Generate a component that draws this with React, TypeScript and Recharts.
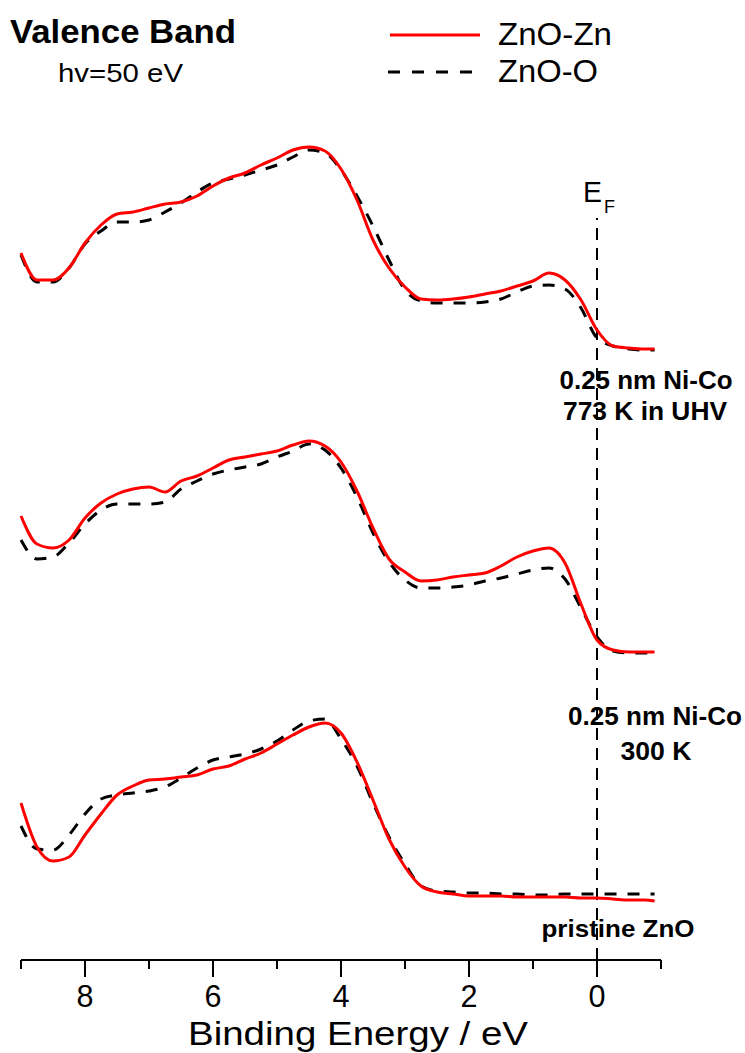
import React from 'react';
import { LineChart, Line, XAxis, YAxis, ReferenceLine } from 'recharts';

// Valence band spectra (hv = 50 eV), three stacked sample states.
// Intensities are in arbitrary plot units (offsets already included).
const ENERGY = [
  9, 8.75, 8.5, 8.25, 8, 7.75, 7.5, 7.25, 7, 6.75, 6.5, 6.25, 6, 5.75, 5.5,
  5.25, 5, 4.75, 4.5, 4.25, 4, 3.75, 3.5, 3.25, 3, 2.75, 2.5, 2.25, 2, 1.75,
  1.5, 1.25, 1, 0.75, 0.5, 0.25, 0, -0.25, -0.5, -0.75, -0.9,
];

// 0.25 nm Ni-Co, 773 K in UHV
const UHV_ZN = [
  707, 680, 680, 692, 717, 735, 746, 748, 752, 756, 758, 764, 774, 782, 787,
  795, 802, 810, 813, 809, 791, 760, 720, 692, 673, 661, 660, 661, 663, 666,
  669, 674, 679, 687, 680, 660, 630, 614, 612, 611, 611,
];
const UHV_O = [
  705, 678, 678, 692, 716, 729, 738, 738, 740, 748, 757, 768, 777, 781, 785,
  790, 795, 803, 810, 807, 790, 764, 734, 700, 670, 659, 657, 657, 657, 658,
  661, 668, 674, 675, 671, 652, 622, 614, 611, 610, 610,
];

// 0.25 nm Ni-Co, 300 K
const RT_ZN = [
  444, 416, 412, 420, 442, 457, 466, 471, 473, 468, 479, 484, 492, 500, 503,
  506, 509, 515, 519, 514, 498, 469, 432, 401, 388, 379, 380, 383, 385, 387,
  394, 403, 409, 412, 397, 356, 320, 310, 308, 308, 308,
];
const RT_O = [
  420, 401, 403, 417, 436, 450, 456, 456, 456, 458, 471, 479, 486, 490, 493,
  496, 503, 509, 516, 510, 492, 463, 427, 398, 380, 372, 372, 373, 375, 379,
  382, 386, 390, 392, 381, 352, 323, 309, 307, 307, 307,
];

// pristine ZnO
const PRISTINE_ZN = [
  157, 113, 99, 103, 125, 146, 165, 174, 180, 181, 183, 185, 191, 194, 201,
  207, 216, 225, 233, 237, 227, 198, 160, 121, 93, 74, 68, 66, 64, 64,
  64, 63, 63, 63, 63, 62, 62, 61, 60, 60, 59,
];
const PRISTINE_O = [
  134, 111, 110, 125, 146, 161, 165, 167, 169, 173, 182, 192, 200, 203, 206,
  211, 219, 230, 239, 241, 221, 194, 157, 123, 96, 74, 69, 68, 67, 67,
  66, 66, 65, 65, 66, 66, 66, 66, 66, 66, 66,
];

const X_TICKS = [9, 8, 7, 6, 5, 4, 3, 2, 1, 0, -1];

const FONT = '"Liberation Sans", Arial, sans-serif';
const AXIS_Y = 960;

const rows = ENERGY.map((e, i) => ({
  energy: e,
  uhvZn: UHV_ZN[i],
  uhvO: UHV_O[i],
  rtZn: RT_ZN[i],
  rtO: RT_O[i],
  priZn: PRISTINE_ZN[i],
  priO: PRISTINE_O[i],
}));

const ZN_SERIES = ['uhvZn', 'rtZn', 'priZn'];
const O_SERIES = ['uhvO', 'rtO', 'priO'];

/**
 * Bottom axis tick: long tick + label on even energies, short tick on odd ones
 */
function EnergyTick({ x, payload }: any): React.ReactElement {
  const v = payload.value;
  const major = v % 2 === 0;
  return (
    <g>
      <line
        x1={x}
        x2={x}
        y1={AXIS_Y}
        y2={AXIS_Y + (major ? 17 : 9)}
        stroke="#000"
        strokeWidth={2}
      />
      {major && (
        <text
          x={x}
          y={1007}
          textAnchor="middle"
          fontFamily={FONT}
          fontSize={31}
          textLength={17}
          lengthAdjust="spacingAndGlyphs"
          fill="#000"
        >
          {v}
        </text>
      )}
    </g>
  );
}

function Txt({ x, y, w, size, bold, anchor = 'start', children }: any) {
  return (
    <text
      x={x}
      y={y}
      fontFamily={FONT}
      fontSize={size}
      fontWeight={bold ? 'bold' : 'normal'}
      textAnchor={anchor}
      textLength={w}
      lengthAdjust="spacingAndGlyphs"
      fill="#000"
    >
      {children}
    </text>
  );
}

export default function App(): React.ReactElement {
  return (
    <div
      style={{
        position: 'absolute',
        left: 0,
        top: 0,
        width: 745,
        height: 1053,
        background: '#fff',
        overflow: 'hidden',
      }}
    >
      <LineChart
        width={745}
        height={1053}
        data={rows}
        margin={{ top: 100, right: 84, bottom: 0, left: 21 }}
      >
        <XAxis
          type="number"
          dataKey="energy"
          domain={[-1, 9]}
          reversed
          ticks={X_TICKS}
          interval={0}
          tick={<EnergyTick />}
          tickLine={false}
          tickSize={0}
          tickMargin={0}
          axisLine={{ stroke: '#000', strokeWidth: 2 }}
          height={93}
        />
        <YAxis type="number" domain={[0, 860]} hide />
        <ReferenceLine
          segment={[
            { x: 0, y: 0 },
            { x: 0, y: 742 },
          ]}
          stroke="#000"
          strokeWidth={2}
          strokeDasharray="12 8"
        />
        {O_SERIES.map((k) => (
          <Line
            key={k}
            type="monotone"
            dataKey={k}
            stroke="#000"
            strokeWidth={3}
            strokeDasharray="12 11"
            dot={false}
            isAnimationActive={false}
          />
        ))}
        {ZN_SERIES.map((k) => (
          <Line
            key={k}
            type="monotone"
            dataKey={k}
            stroke="#ff0000"
            strokeWidth={3}
            dot={false}
            isAnimationActive={false}
          />
        ))}
      </LineChart>

      <svg
        width={745}
        height={1053}
        style={{ position: 'absolute', left: 0, top: 0, pointerEvents: 'none' }}
      >
        <Txt x={10} y={43} w={226} size={33} bold>
          Valence Band
        </Txt>
        <Txt x={58} y={82} w={125} size={26}>
          hv=50 eV
        </Txt>

        {/* legend */}
        <line x1={390} x2={480} y1={35} y2={35} stroke="#ff0000" strokeWidth={3} />
        <Txt x={498} y={45} w={114} size={31}>
          ZnO-Zn
        </Txt>
        <line
          x1={388}
          x2={482}
          y1={72}
          y2={72}
          stroke="#000"
          strokeWidth={3}
          strokeDasharray="12 12"
        />
        <Txt x={498} y={82} w={100} size={31}>
          ZnO-O
        </Txt>

        {/* Fermi level */}
        <Txt x={583} y={202} w={19} size={30}>
          E
        </Txt>
        <Txt x={604} y={213} w={11} size={19}>
          F
        </Txt>

        <Txt x={646} y={389} w={173} size={26} bold anchor="middle">
          0.25 nm Ni-Co
        </Txt>
        <Txt x={645} y={420} w={164} size={26} bold anchor="middle">
          773 K in UHV
        </Txt>
        <Txt x={655} y={725} w={174} size={26} bold anchor="middle">
          0.25 nm Ni-Co
        </Txt>
        <Txt x={656} y={760} w={71} size={26} bold anchor="middle">
          300 K
        </Txt>
        <Txt x={618} y={937} w={153} size={24} bold anchor="middle">
          pristine ZnO
        </Txt>

        <Txt x={358} y={1045} w={340} size={33} anchor="middle">
          Binding Energy / eV
        </Txt>
      </svg>
    </div>
  );
}
